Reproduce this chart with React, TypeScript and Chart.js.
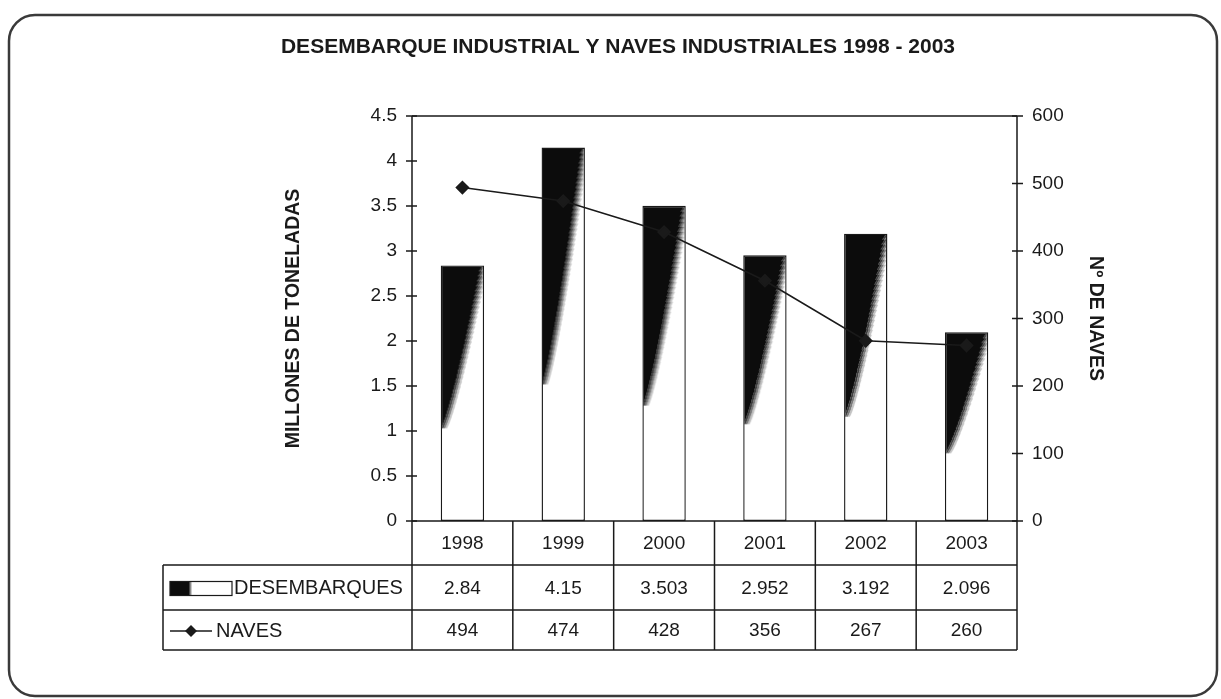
import React, { useEffect, useRef } from 'react';
import { Chart, registerables } from 'chart.js';

Chart.register(...registerables);

const chartTitle = 'DESEMBARQUE INDUSTRIAL Y NAVES INDUSTRIALES 1998 - 2003';
const leftAxisTitle = 'MILLONES DE TONELADAS';
const rightAxisTitle = 'Nº DE NAVES';
const years = ['1998', '1999', '2000', '2001', '2002', '2003'];
const desembarques = [2.84, 4.15, 3.503, 2.952, 3.192, 2.096];
const naves = [494, 474, 428, 356, 267, 260];
const desembarquesText = ['2.84', '4.15', '3.503', '2.952', '3.192', '2.096'];
const navesText = ['494', '474', '428', '356', '267', '260'];
const seriesNames = ['DESEMBARQUES', 'NAVES'];
const leftTickValues = [0, 0.5, 1, 1.5, 2, 2.5, 3, 3.5, 4, 4.5];
const leftTickLabels = ['0', '0.5', '1', '1.5', '2', '2.5', '3', '3.5', '4', '4.5'];
const rightTickValues = [0, 100, 200, 300, 400, 500, 600];
const rightTickLabels = ['0', '100', '200', '300', '400', '500', '600'];

const FONT = '"Liberation Sans", Arial, sans-serif';
const INK = '#1a1a1a';
const BAR_PCT = 0.43;

// Fill texture for each bar: dark wedge on the upper-left fading to white (pattern placed on the bar's own box)
function barFill(c: any) {
  const chart = c.chart;
  const { chartArea, scales } = chart;
  if (!chartArea || c.type !== 'data' || !scales.x || !scales.y) return '#111';
  const xs = scales.x;
  const ys = scales.y;
  const cx = xs.getPixelForValue(c.dataIndex);
  const w = (xs.width / years.length) * BAR_PCT;
  const left = cx - w / 2;
  const top = ys.getPixelForValue(c.raw);
  const base = ys.getPixelForValue(0);
  const W = Math.max(1, Math.round(w) + 2);
  const H = Math.max(1, Math.round(base - top) + 2);
  const off = document.createElement('canvas');
  off.width = W;
  off.height = H;
  const o = off.getContext('2d');
  if (!o) return '#111';
  o.fillStyle = '#ffffff';
  o.fillRect(0, 0, W, H);
  const reach = 0.63 * H;
  const topW = 0.9 * W;
  for (let y = 0; y < reach; y++) {
    const t = y / reach;
    const j = (((y * 7919) % 5) - 2) * 0.5;
    const bw = Math.max(0, topW * Math.pow(1 - t, 0.8) + j * (1 - t));
    o.fillStyle = '#0c0c0c';
    o.fillRect(0, y, bw, 1);
    o.fillStyle = '#3c3c3c';
    o.fillRect(bw, y, 2, 1);
    o.fillStyle = '#7a7a7a';
    o.fillRect(bw + 2, y, 2, 1);
    o.fillStyle = '#c4c4c4';
    o.fillRect(bw + 4, y, 2, 1);
  }
  const p = chart.ctx.createPattern(off, 'no-repeat');
  if (!p) return '#111';
  p.setTransform(new DOMMatrix([1, 0, 0, 1, left, top]));
  return p;
}

const framePlugin = {
  id: 'frameAndTable',
  beforeDraw(chart: any) {
    const ctx = chart.ctx;
    ctx.save();
    ctx.fillStyle = '#ffffff';
    ctx.fillRect(0, 0, chart.width, chart.height);
    ctx.strokeStyle = '#3a3a3a';
    ctx.lineWidth = 2.5;
    ctx.beginPath();
    ctx.roundRect(9, 15, 1208, 681, 26);
    ctx.stroke();
    ctx.fillStyle = INK;
    ctx.font = 'bold 21px ' + FONT;
    ctx.textAlign = 'center';
    ctx.textBaseline = 'middle';
    ctx.fillText(chartTitle, 618, 47);
    ctx.restore();
  },
  afterDraw(chart: any) {
    const { ctx, chartArea: ca, scales } = chart;
    const xs = scales.x;
    const ys = scales.y;
    const y1 = scales.y1;
    const cw = xs.width / years.length;
    const r0 = ca.bottom;
    const r1 = xs.bottom;
    const r2 = r1 + 45;
    const r3 = r2 + 40;
    const labelLeft = 163;
    ctx.save();
    ctx.strokeStyle = INK;
    ctx.lineWidth = 1.5;
    // plot frame
    ctx.beginPath();
    ctx.moveTo(ca.left, ca.top);
    ctx.lineTo(ca.right, ca.top);
    ctx.moveTo(ca.left, ca.top);
    ctx.lineTo(ca.left, ca.bottom);
    ctx.moveTo(ca.right, ca.top);
    ctx.lineTo(ca.right, ca.bottom);
    ctx.stroke();
    // cross ticks
    ctx.lineWidth = 1.3;
    ctx.beginPath();
    leftTickValues.forEach((v) => {
      const p = ys.getPixelForValue(v);
      ctx.moveTo(ca.left - 6, p);
      ctx.lineTo(ca.left + 5, p);
    });
    rightTickValues.forEach((v) => {
      const p = y1.getPixelForValue(v);
      ctx.moveTo(ca.right - 5, p);
      ctx.lineTo(ca.right + 6, p);
    });
    ctx.stroke();
    // table grid
    ctx.lineWidth = 1.5;
    ctx.beginPath();
    ctx.moveTo(ca.left, r0);
    ctx.lineTo(ca.right, r0);
    [r1, r2, r3].forEach((r) => {
      ctx.moveTo(labelLeft, r);
      ctx.lineTo(ca.right, r);
    });
    for (let k = 0; k <= years.length; k++) {
      const x = ca.left + k * cw;
      ctx.moveTo(x, r0);
      ctx.lineTo(x, r3);
    }
    ctx.moveTo(labelLeft, r1);
    ctx.lineTo(labelLeft, r3);
    ctx.stroke();
    // values
    ctx.fillStyle = INK;
    ctx.font = '19px ' + FONT;
    ctx.textAlign = 'center';
    ctx.textBaseline = 'middle';
    const m1 = (r1 + r2) / 2 + 1;
    const m2 = (r2 + r3) / 2 + 1;
    years.forEach((_, i) => {
      const cx = xs.getPixelForValue(i);
      ctx.fillText(desembarquesText[i], cx, m1);
      ctx.fillText(navesText[i], cx, m2);
    });
    // legend keys
    const kx = 170;
    const kw = 62;
    const g = ctx.createLinearGradient(kx, 0, kx + kw, 0);
    g.addColorStop(0, '#0c0c0c');
    g.addColorStop(0.3, '#0c0c0c');
    g.addColorStop(0.36, '#ffffff');
    g.addColorStop(1, '#ffffff');
    ctx.fillStyle = g;
    ctx.fillRect(kx, m1 - 7, kw, 14);
    ctx.lineWidth = 1.2;
    ctx.strokeRect(kx, m1 - 7, kw, 14);
    ctx.fillStyle = INK;
    ctx.textAlign = 'left';
    ctx.font = '20px ' + FONT;
    ctx.fillText(seriesNames[0], kx + kw + 2, m1);
    ctx.lineWidth = 1.5;
    ctx.beginPath();
    ctx.moveTo(kx, m2);
    ctx.lineTo(kx + 42, m2);
    ctx.stroke();
    ctx.beginPath();
    ctx.moveTo(kx + 21, m2 - 6);
    ctx.lineTo(kx + 27, m2);
    ctx.lineTo(kx + 21, m2 + 6);
    ctx.lineTo(kx + 15, m2);
    ctx.closePath();
    ctx.fill();
    ctx.fillText(seriesNames[1], kx + 46, m2);
    ctx.restore();
  },
};

export default function App() {
  const ref = useRef<HTMLCanvasElement | null>(null);
  useEffect(() => {
    if (!ref.current) return;
    const chart = new Chart(ref.current, {
      type: 'bar',
      data: {
        labels: years,
        datasets: [
          {
            type: 'line',
            label: seriesNames[1],
            data: naves,
            yAxisID: 'y1',
            borderColor: INK,
            borderWidth: 1.6,
            pointStyle: 'rectRot',
            pointRadius: 6,
            pointBackgroundColor: INK,
            pointBorderColor: INK,
            tension: 0,
            order: 0,
          } as any,
          {
            type: 'bar',
            label: seriesNames[0],
            data: desembarques,
            yAxisID: 'y',
            backgroundColor: barFill,
            borderColor: INK,
            borderWidth: 1.4,
            borderSkipped: false,
            barPercentage: BAR_PCT,
            categoryPercentage: 1,
            order: 1,
          } as any,
        ],
      },
      options: {
        responsive: false,
        animation: false,
        devicePixelRatio: 1,
        layout: { padding: { left: 282, right: 114, top: 116, bottom: 134 } },
        plugins: {
          legend: { display: false },
          tooltip: { enabled: false },
          title: { display: false },
        },
        scales: {
          x: {
            grid: { display: false, drawTicks: false },
            border: { display: false },
            ticks: { color: INK, font: { family: FONT, size: 19 }, padding: 11, maxRotation: 0 },
            afterFit: (s: any) => { s.height = 44; },
          },
          y: {
            position: 'left',
            min: 0,
            max: 4.5,
            afterBuildTicks: (s: any) => { s.ticks = leftTickValues.map((v) => ({ value: v })); },
            ticks: {
              color: INK,
              font: { family: FONT, size: 19 },
              padding: 15,
              callback: (_v: any, i: number) => leftTickLabels[i],
            },
            grid: { display: false, drawTicks: false },
            border: { display: false },
            title: {
              display: true,
              text: leftAxisTitle,
              color: INK,
              font: { family: FONT, size: 19.5, weight: 'bold' },
              padding: 0,
            },
            afterFit: (s: any) => { s.width = 130; },
          },
          y1: {
            position: 'right',
            min: 0,
            max: 600,
            afterBuildTicks: (s: any) => { s.ticks = rightTickValues.map((v) => ({ value: v })); },
            ticks: {
              color: INK,
              font: { family: FONT, size: 19 },
              padding: 15,
              callback: (_v: any, i: number) => rightTickLabels[i],
            },
            grid: { display: false, drawTicks: false },
            border: { display: false },
            title: {
              display: true,
              text: rightAxisTitle,
              color: INK,
              font: { family: FONT, size: 19.5, weight: 'bold' },
              padding: 0,
            },
            afterFit: (s: any) => { s.width = 90; },
          },
        },
      } as any,
      plugins: [framePlugin],
    });
    return () => chart.destroy();
  }, []);
  return (
    <div style={{ position: 'fixed', left: 0, top: 0, width: 1221, height: 699, background: '#fff' }}>
      <canvas ref={ref} width={1221} height={699} style={{ display: 'block' }} />
    </div>
  );
}
